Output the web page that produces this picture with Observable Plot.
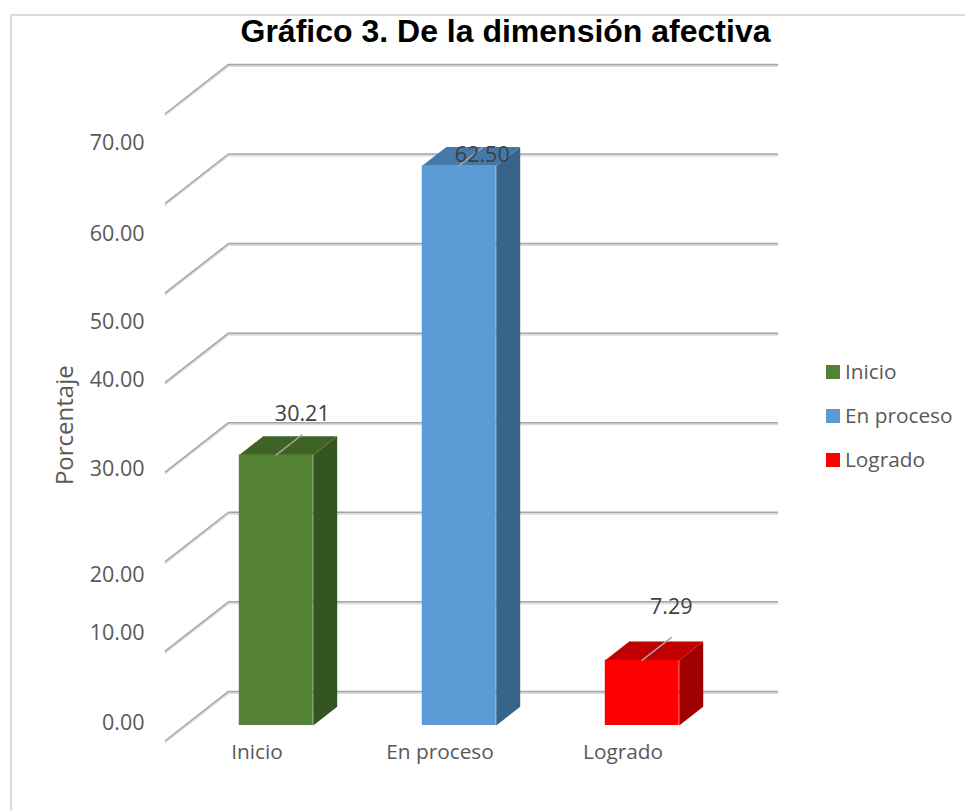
<!DOCTYPE html>
<html>
<head>
<meta charset="utf-8">
<script src="https://cdn.jsdelivr.net/npm/d3@7"></script>
<script src="https://cdn.jsdelivr.net/npm/@observablehq/plot@0.6"></script>
<style>
html,body{margin:0;padding:0;background:#fff;width:965px;height:811px;overflow:hidden}
#wrap{position:relative;width:965px;height:811px}
#wrap svg{position:absolute;left:0;top:0}
#frame{position:absolute;left:10px;top:14px;width:965px;height:811px;border-left:2px solid #dcdcdc;border-top:2px solid #dcdcdc}
h1{position:absolute;left:0;top:13px;width:1011px;margin:0;text-align:center;font:bold 32px "Liberation Sans",Arial,sans-serif;color:#000;line-height:36px;z-index:2}
.lg{position:absolute;left:826px;font:20.8px "Open Sans",sans-serif;color:#595959;line-height:28px;white-space:nowrap;padding-left:19px}
.lg i{position:absolute;left:0;top:8px;width:14px;height:14px}
</style>
</head>
<body>
<div id="wrap"><div id="frame"></div><h1>Gráfico 3. De la dimensión afectiva</h1></div>
<script>
const categories = ["Inicio", "En proceso", "Logrado"];
const values = [30.21, 62.50, 7.29];
const frontColors = ["#548235", "#5b9bd5", "#ff0000"];
const topColors = ["#3f6327", "#4478a8", "#c00000"];
const sideColors = ["#345520", "#37648a", "#a00000"];
const tickValues = [0, 10, 20, 30, 40, 50, 60, 70];
const tickShifts = [-17, -18, 14, -3, -2, 29, 31, 30];
const labelShifts = [[26, -41], [23, -11], [29, -53]];
const leaderDepths = [0.41, 0.37, 0.46];
const legendRows = [357, 401, 445];

// oblique projection of the chart box, in data units
const depthX = 0.344, depthY = 5.48;
const barWidth = 0.404, depthFront = 0.306, depthBack = 0.687;
const px = (i, d) => i + d * depthX;
const py = (v, d) => v + d * depthY;

const faces = {top: [], side: []};
values.forEach((v, i) => {
  const l = i + 0.5 - barWidth / 2, r = i + 0.5 + barWidth / 2;
  [[l, depthFront], [r, depthFront], [r, depthBack], [l, depthBack]].forEach(([x, d]) =>
    faces.top.push({id: i, x: px(x, d), y: py(v, d), c: topColors[i]}));
  [[depthFront, v], [depthBack, v], [depthBack, 0], [depthFront, 0]].forEach(([d, h]) =>
    faces.side.push({id: i, x: px(r, d), y: py(h, d), c: sideColors[i]}));
});

const gridLines = tickValues.flatMap(t => [
  {id: t, x: px(0, 0), y: py(t, 0)},
  {id: t, x: px(0, 1), y: py(t, 1)},
  {id: t, x: px(3, 1), y: py(t, 1)}
]);
const leaders = values.flatMap((v, i) => [
  {id: i, x: px(i + 0.5, depthFront), y: py(v, depthFront)},
  {id: i, x: px(i + 0.5, depthFront + leaderDepths[i]), y: py(v, depthFront + leaderDepths[i])}
]);

const tickFont = {fontSize: 21.5, fontFamily: "Open Sans", fill: "#595959"};
const marks = [
  Plot.line(gridLines, {x: "x", y: "y", z: "id", stroke: "#dcdcdc", strokeWidth: 2, dy: 1.5, curve: "linear"}),
  Plot.line(gridLines, {x: "x", y: "y", z: "id", stroke: "#a6a6a6", strokeWidth: 1.5, curve: "linear"}),
  Plot.axisX({ticks: [0.5, 1.5, 2.5], tickSize: 0, tickPadding: 0, label: null, dy: 4,
    tickFormat: t => categories[Math.floor(t)], ...tickFont, fontSize: 20.8}),
  ...tickValues.map((t, k) => Plot.axisY([t], {tickSize: 0, tickPadding: 21, label: null,
    dy: tickShifts[k], tickFormat: d => d.toFixed(2), ...tickFont})),
  Plot.text(["Porcentaje"], {text: d => d, frameAnchor: "left", textAnchor: "middle", dx: -100, y: () => 35.2,
    rotate: -90, ...tickFont, fontSize: 24}),
  Plot.line(faces.side, {x: "x", y: "y", z: "id", fill: "c", stroke: "none", curve: "linear"}),
  Plot.line(faces.top, {x: "x", y: "y", z: "id", fill: "c", stroke: "none", curve: "linear"}),
  Plot.rect(values, {
    x1: (v, i) => px(i + 0.5 - barWidth / 2, depthFront),
    x2: (v, i) => px(i + 0.5 + barWidth / 2, depthFront),
    y1: () => py(0, depthFront),
    y2: v => py(v, depthFront),
    fill: (v, i) => frontColors[i],
    inset: 0
  }),
  Plot.line(leaders, {x: "x", y: "y", z: "id", stroke: "#a6a6a6", strokeWidth: 1.5, curve: "linear"}),
  ...values.map((v, i) => Plot.text([v], {
    x: () => px(i + 0.5, depthFront),
    y: d => py(d, depthFront),
    text: d => d.toFixed(2),
    dx: labelShifts[i][0], dy: labelShifts[i][1],
    fontSize: 21.5, fontFamily: "Open Sans", fill: "#404040"
  }))
];

const chart = Plot.plot({
  width: 965, height: 811,
  marginLeft: 165, marginRight: 251, marginTop: 113, marginBottom: 71,
  x: {type: "linear", domain: [0, 3]},
  y: {type: "linear", domain: [0, 70]},
  style: {background: "transparent", overflow: "visible"},
  marks
});
const wrap = document.getElementById("wrap");
wrap.appendChild(chart);
categories.forEach((c, i) => {
  const d = document.createElement("div");
  d.className = "lg";
  d.style.top = legendRows[i] + "px";
  d.innerHTML = `<i style="background:${frontColors[i]}"></i>${c}`;
  wrap.appendChild(d);
});
</script>
</body>
</html>
